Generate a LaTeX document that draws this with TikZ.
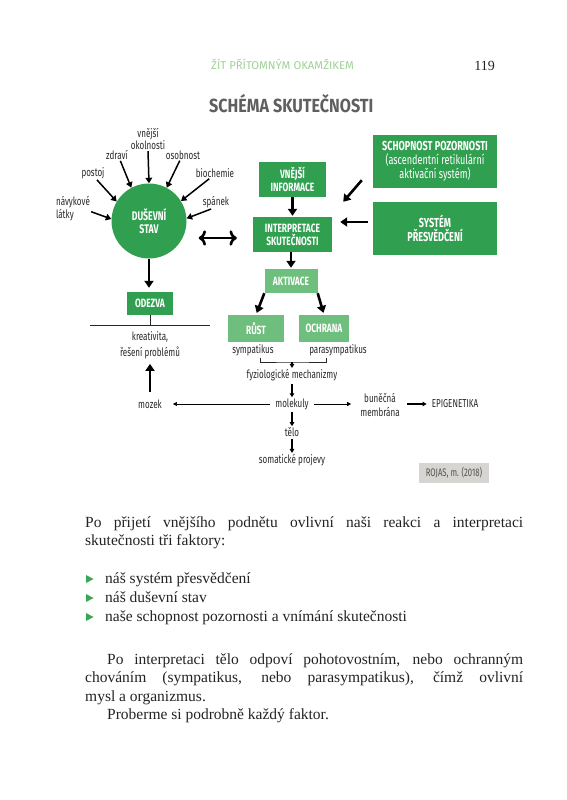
\documentclass[tikz,border=0pt]{standalone}
\usepackage{fontspec}
\setmainfont{Liberation Serif}
\newfontfamily\cond[FakeStretch=0.7]{Fira Sans}
\newfontfamily\hdr{Fira Sans}
\newfontfamily\titlef[FakeStretch=0.85]{Fira Sans}
\usetikzlibrary{arrows.meta}
\definecolor{dg}{RGB}{48,160,80}
\definecolor{lg}{RGB}{110,190,125}
\definecolor{hdrgreen}{RGB}{160,210,150}
\definecolor{titlegray}{RGB}{95,95,95}
\definecolor{labtext}{RGB}{40,40,40}
\definecolor{bodytext}{RGB}{35,35,35}
\definecolor{rojasfill}{RGB}{215,213,210}
\definecolor{rojastext}{RGB}{80,80,80}
\definecolor{bulgreen}{RGB}{58,166,85}
\tikzset{
  txt/.style={inner sep=0pt, text=bodytext, font=\fontsize{15.5}{18.5}\selectfont},
  lab/.style={inner sep=1pt, text=labtext, align=center, font=\cond\fontsize{11.5}{12.5}\selectfont},
  boxfont/.style={text=white, align=center, font=\cond\bfseries\fontsize{12}{13}\selectfont},
  dbox/.style={rectangle, fill=dg, inner sep=0pt, boxfont},
  lbox/.style={rectangle, fill=lg, inner sep=0pt, boxfont},
  bigarr/.style={line width=2.6pt, -{Triangle[length=7pt,width=9pt]}},
  labarr/.style={line width=1.5pt, -{Triangle[length=5.5pt,width=6.5pt]}},
  smallarr/.style={line width=1.1pt, -{Triangle[length=4pt,width=4.5pt]}},
  thinarr/.style={line width=0.7pt, -{Triangle[length=4pt,width=4pt]}},
}
\begin{document}
\begin{tikzpicture}[x=1pt,y=-1pt]
\useasboundingbox (0,0) rectangle (566,800);
\fill[white] (0,0) rectangle (566,800);

% header
\node[inner sep=0pt, anchor=base west, text=hdrgreen, font=\hdr\fontsize{11.3}{13}\selectfont] (hdr) at (211,69.5) {ŽÍT PŘÍTOMNÝM OKAMŽIKEM};
\node[inner sep=0pt, anchor=base east, text=bodytext, font=\fontsize{14}{16}\selectfont] (pg) at (495,70.5) {119};
\node[inner sep=0pt, anchor=base west, text=titlegray, font=\titlef\bfseries\fontsize{19}{21}\selectfont] (title) at (209,112) {SCHÉMA SKUTEČNOSTI};

% circle
\node[circle, fill=dg, minimum size=75pt, inner sep=0pt, boxfont, font=\cond\bfseries\fontsize{12.5}{13.5}\selectfont] (duse) at (149,221) {DUŠEVNÍ\\STAV};

% labels around the circle
\node[lab] (vnejsi) at (148,139) {vnější\\okolnosti};
\node[lab] (zdravi) at (117,155) {zdraví};
\node[lab] (osobnost) at (183,155) {osobnost};
\node[lab] (postoj) at (93,173) {postoj};
\node[lab] (biochemie) at (215,173) {biochemie};
\node[lab, align=left] (navykove) at (73,208.5) {návykové\\látky};
\node[lab] (spanek) at (216,202) {spánek};

\draw[labarr] (vnejsi.south) -- (duse.90);
\draw[labarr] (zdravi.-60) -- (duse.118);
\draw[labarr] (osobnost.-120) -- (duse.62);
\draw[labarr] (postoj.-60) -- (duse.149);
\draw[labarr] (biochemie.-135) -- (duse.32);
\draw[labarr] (navykove.-10) -- (duse.177);
\draw[labarr] (spanek.-125) -- (duse.4);

% right column
\node[dbox, minimum width=67pt, minimum height=35pt] (vnjinf) at (292.5,179.5) {VNĚJŠÍ\\INFORMACE};
\node[dbox, minimum width=79pt, minimum height=35pt] (interp) at (292.5,234.5) {INTERPRETACE\\SKUTEČNOSTI};
\node[lbox, minimum width=53pt, minimum height=24pt] (aktiv) at (291,281) {AKTIVACE};
\node[lbox, minimum width=56pt, minimum height=27pt] (rust) at (256,328.5) {RŮST};
\node[lbox, minimum width=50pt, minimum height=27pt] (ochr) at (324,328.5) {OCHRANA};
\node[dbox, minimum width=124pt, minimum height=53pt, font=\cond\bfseries\fontsize{13}{14}\selectfont] (schop) at (435,161.5) {SCHOPNOST POZORNOSTI\\{\mdseries (ascendentní retikulární}\\{\mdseries aktivační systém)}};
\node[dbox, minimum width=124pt, minimum height=53pt, font=\cond\bfseries\fontsize{13}{14}\selectfont] (system) at (435,228.5) {SYSTÉM\\PŘESVĚDČENÍ};

\draw[bigarr, shorten >=1pt] (vnjinf.south) -- (interp.north);
\draw[bigarr, shorten >=1pt] (interp.south -| aktiv.north) -- (aktiv.north);
\draw[bigarr] ([xshift=-11pt,yshift=8pt]schop.south west) -- ([xshift=11pt,yshift=15pt]interp.north east);
\draw[bigarr] ([xshift=-5pt,yshift=6.5pt]system.west) -- ([xshift=8pt,yshift=12.5pt]interp.east);
\draw[bigarr, shorten >=2pt] (aktiv.south west) -- (rust.north);
\draw[bigarr, shorten >=2pt] (aktiv.south east) -- (ochr.north);
\draw[bigarr, <->, shorten <=12pt, shorten >=16pt] (duse.east |- 0,238) -- (interp.west |- 0,238);

% left lower part
\node[dbox, minimum width=46pt, minimum height=23pt] (odezva) at (150,303.5) {ODEZVA};
\draw[bigarr, shorten >=4pt] (duse.south) -- (duse.south |- odezva.north);
\coordinate (hl1) at (90,325);
\coordinate (hl2) at (210,325);
\draw[line width=0.8pt, labtext] (hl1) -- (hl2);
\draw[line width=0.8pt, labtext] (odezva.south) -- (odezva.south |- hl1);
\node[lab, font=\cond\fontsize{11.5}{16}\selectfont] (kreat) at (150,345) {kreativita,\\řešení problémů};

% lower chain
\node[lab] (symp) at (253,350) {sympatikus};
\node[lab] (para) at (338,350) {parasympatikus};
\node[lab] (fyz) at (292,375) {fyziologické mechanizmy};
\node[lab] (molek) at (292,404) {molekuly};
\node[lab] (mozek) at (150,404) {mozek};
\node[lab, font=\cond\fontsize{11.5}{14}\selectfont] (bunecna) at (380,405) {buněčná\\membrána};
\node[lab] (epi) at (455,404) {EPIGENETIKA};
\node[lab] (telo) at (292,432) {tělo};
\node[lab] (somat) at (292,460) {somatické projevy};

\coordinate (b1) at (260,357.5);
\coordinate (b2) at (326,357.5);
\coordinate (bm) at (292,362);
\draw[line width=0.8pt, labtext] (b1) |- (bm) -| (b2);
\draw[smallarr] (bm) -- (fyz.north);
\draw[smallarr, shorten <=2pt] (fyz.south) -- (molek.north);
\draw[smallarr, shorten <=1pt] (molek.south) -- (telo.north);
\draw[smallarr, shorten <=1pt] (telo.south) -- (somat.north);
\draw[thinarr, shorten <=4pt, shorten >=10pt] (molek.west) -- (mozek.east);
\draw[thinarr, shorten <=4pt, shorten >=8pt] (molek.east) -- (bunecna.west |- molek.east);
\draw[smallarr, line width=1.3pt, shorten <=6pt, shorten >=4pt] (bunecna.east |- epi.west) -- (epi.west);
\draw[bigarr, shorten <=6pt, shorten >=4pt] (mozek.north) -- (kreat.south);

\node[rectangle, fill=rojasfill, minimum width=70pt, minimum height=20pt, inner sep=0pt, text=rojastext, font=\cond\fontsize{11}{12}\selectfont] (rojas) at (454,473) {ROJAS, m. (2018)};

% body text
\node[txt, anchor=base west] (p1a) at (85,527) {\hbox to 438pt{Po přijetí vnějšího podnětu ovlivní naši reakci a interpretaci}};
\node[txt, anchor=base west] (p1b) at (85,545.5) {skutečnosti tři faktory:};
\fill[bulgreen] (86,575) -- (93.5,579) -- (86,583) -- cycle;
\fill[bulgreen] (86,594) -- (93.5,598) -- (86,602) -- cycle;
\fill[bulgreen] (86,613) -- (93.5,617) -- (86,621) -- cycle;
\node[txt, anchor=base west] (li1) at (105,583) {náš systém přesvědčení};
\node[txt, anchor=base west] (li2) at (105,602) {náš duševní stav};
\node[txt, anchor=base west] (li3) at (105,621) {naše schopnost pozornosti a vnímání skutečnosti};
\node[txt, anchor=base west] (p2a) at (107,664) {\hbox to 416pt{Po interpretaci tělo odpoví pohotovostním, nebo ochranným}};
\node[txt, anchor=base west] (p2b) at (85,682.5) {\hbox to 438pt{chováním (sympatikus, nebo parasympatikus), čímž ovlivní}};
\node[txt, anchor=base west] (p2c) at (85,701) {mysl a organizmus.};
\node[txt, anchor=base west] (p2d) at (107,719.5) {Proberme si podrobně každý faktor.};
\end{tikzpicture}
\end{document}
